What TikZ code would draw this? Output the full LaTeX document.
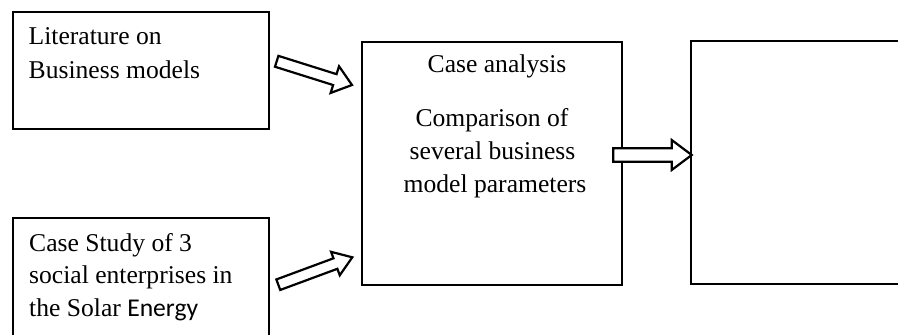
\documentclass[tikz,border=0pt]{standalone}
\usepackage{fontspec}
\setmainfont{Liberation Serif}
\newfontfamily\calfont{Carlito}
\usetikzlibrary{calc}
\tikzset{
  boxline/.style={draw=black, line width=2.6pt, line join=miter},
  arrowline/.style={draw=black, line width=2.2pt, fill=white, line join=miter},
  txt/.style={inner sep=0pt, font=\fontsize{25.6}{30}\selectfont},
  ltxt/.style={txt, anchor=base west},
  ctxt/.style={txt, anchor=base},
}
\newcommand{\blkarrow}[5]{%
  \coordinate (ba) at ($(#2)!#5!(#1)$);
  \draw[arrowline] ($(#1)!#3!90:(#2)$) -- ($(ba)!#3!90:(#2)$) -- ($(ba)!#4!90:(#2)$)
    -- (#2) -- ($(ba)!#4!-90:(#2)$) -- ($(ba)!#3!-90:(#2)$) -- ($(#1)!#3!-90:(#2)$) -- cycle;
}
\begin{document}
\begin{tikzpicture}[x=1pt,y=-1pt]
\useasboundingbox (0,0) rectangle (898,335);
\fill[white] (0,0) rectangle (898,335);
% boxes
\draw[boxline] (13,12) rectangle (269,129);
\node[inner sep=0pt] (lit) at (141,70.5) {};
\draw[boxline] (13,218) rectangle (269,360);
\node[inner sep=0pt] (cs) at (141,289) {};
\draw[boxline] (362,42) rectangle (622,285);
\node[inner sep=0pt] (ca) at (492,163.5) {};
\draw[boxline] (691,41) rectangle (920,284);
\node[inner sep=0pt] (res) at (805,162.5) {};
% texts
\node[ltxt] (t1) at (28.5,44.3) {Literature on};
\node[ltxt] (t2) at (28.5,78.3) {Business models};
\node[ltxt] (t3) at (29,251.7) {Case Study of 3};
\node[ltxt] (t4) at (29,283.3) {social enterprises in};
\node[ltxt] (t5) at (29,316.5) {the Solar {\calfont Energy}};
\node[ctxt] (t6) at (497,72.7) {Case analysis};
\node[ctxt] (t7) at (492,126.3) {Comparison of};
\node[ctxt] (t8) at (492.5,159.5) {several business};
\node[ctxt] (t9) at (495,192.8) {model parameters};
% arrows
\coordinate (a1s) at (276.7,61.3);
\coordinate (a1e) at (352,85);
\coordinate (a2s) at (278.3,284.7);
\coordinate (a2e) at (352.3,257.3);
\coordinate (a3s) at (613.3,155);
\coordinate (a3e) at (691.7,155);
\blkarrow{a1s}{a1e}{5.7pt}{14pt}{18pt}
\blkarrow{a2s}{a2e}{5.6pt}{12.5pt}{18pt}
\blkarrow{a3s}{a3e}{6.7pt}{15pt}{20pt}
\end{tikzpicture}
\end{document}
